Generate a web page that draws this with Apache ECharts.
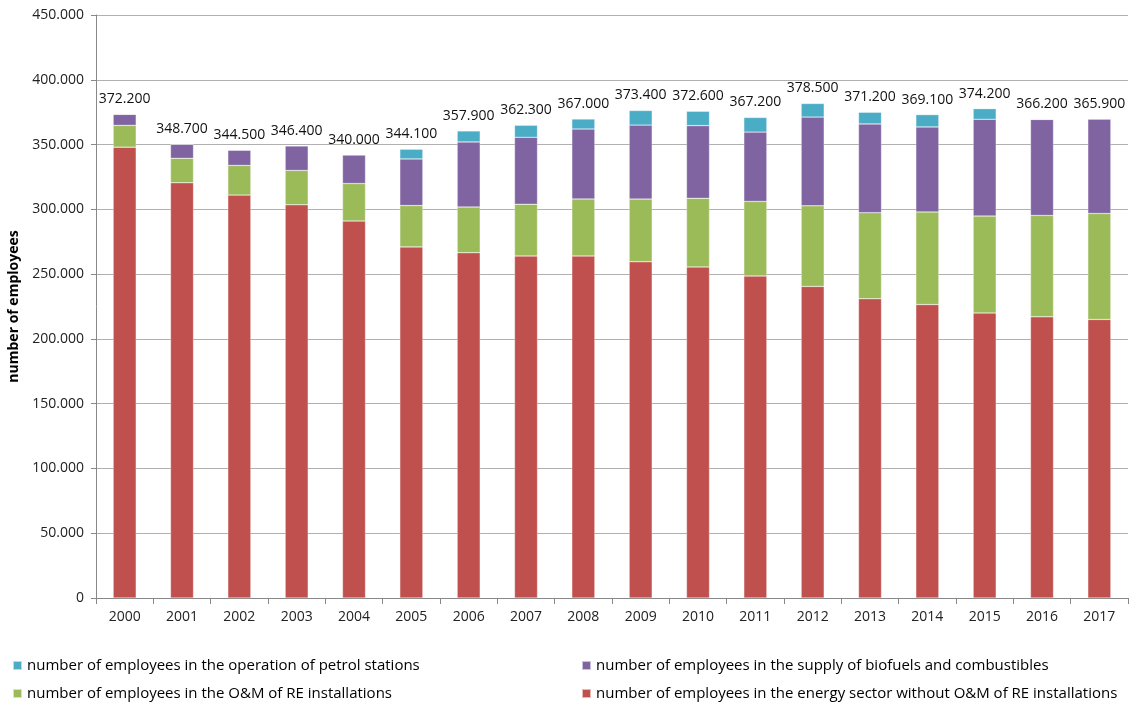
<!DOCTYPE html>
<html><head><meta charset="utf-8">
<script src="https://cdn.jsdelivr.net/npm/echarts@6/dist/echarts.min.js"></script>
<style>html,body{margin:0;padding:0;background:#fff}#c{width:1130px;height:704px}</style>
</head><body><div id="c"></div>
<script>
const years = ['2000','2001','2002','2003','2004','2005','2006','2007','2008','2009','2010','2011','2012','2013','2014','2015','2016','2017'];
const energyWithoutOM = [348000,320500,311000,303500,291000,271000,266500,264000,264000,259500,255500,248500,240500,231000,226500,220000,217000,215000];
const omRE = [16800,18900,22900,26500,28900,31900,35300,39900,44000,48400,53000,57600,62200,66400,71500,74800,78300,81800];
const biofuels = [8500,10800,11800,19000,22100,36000,50200,51700,54000,57100,56100,53500,68500,68500,65600,74700,74100,72900];
const petrol = [0,0,0,0,0,7500,8500,9300,7700,11300,11100,11300,10500,9000,9500,8200,0,0];
const totals = [372200,348700,344500,346400,340000,344100,357900,362300,367000,373400,372600,367200,378500,371200,369100,374200,366200,365900];
const names = {
  petrol: 'number of employees in the operation of petrol stations',
  bio: 'number of employees in the supply of biofuels and combustibles',
  om: 'number of employees in the O&M of RE installations',
  energy: 'number of employees in the energy sector without O&M of RE installations'
};
function fmt(v){ return String(v).replace(/\B(?=(\d{3})+(?!\d))/g,'.'); }
const font = 'Open Sans, Liberation Sans, sans-serif';
const chart = echarts.init(document.getElementById('c'));
function bar(name, data, color, extra){
  return Object.assign({
    name: name, type: 'bar', stack: 's', data: data, barWidth: 23,
    itemStyle: {color: color, borderColor: 'rgba(255,255,255,0.6)', borderWidth: 0.5},
    emphasis: {disabled: true}
  }, extra || {});
}
function leg(left, top, item){
  return {left: left, top: top, orient: 'horizontal', itemWidth: 9, itemHeight: 9, icon: 'rect', padding: 0,
    textStyle: {fontSize: 15, color: '#000', fontFamily: font}, data: [item]};
}
chart.setOption({
  animation: false,
  textStyle: {fontFamily: font},
  grid: {left: 96, right: 2, top: 15, bottom: 106, containLabel: false, outerBoundsMode: 'none'},
  legend: [
    leg(12, 658, names.petrol),
    leg(581, 658, names.bio),
    leg(12, 686, names.om),
    leg(581, 686, names.energy)
  ],
  xAxis: {
    type: 'category', data: years,
    axisLine: {lineStyle: {color: '#888'}},
    axisTick: {show: true, length: 6, lineStyle: {color: '#888'}},
    axisLabel: {color: '#222', fontSize: 14, margin: 12, fontFamily: font}
  },
  yAxis: {
    type: 'value', min: 0, max: 450000, interval: 50000,
    name: 'number of employees', nameLocation: 'middle', nameGap: 72, nameRotate: 90,
    nameTextStyle: {fontWeight: 'bold', fontSize: 14, color: '#000', fontFamily: font},
    axisLine: {show: true, lineStyle: {color: '#888'}},
    axisTick: {show: true, length: 5, lineStyle: {color: '#888'}},
    splitLine: {lineStyle: {color: '#b0b0b0'}},
    axisLabel: {color: '#222', fontSize: 14, margin: 12, formatter: fmt, fontFamily: font}
  },
  series: [
    bar(names.energy, energyWithoutOM, '#C0504D'),
    bar(names.om, omRE, '#9BBB59'),
    bar(names.bio, biofuels, '#8064A2'),
    bar(names.petrol, petrol, '#4BACC6', {
      label: {show: true, position: 'top', distance: 8, fontSize: 14, color: '#111', fontFamily: font,
              formatter: p => fmt(totals[p.dataIndex])}
    })
  ]
});
</script></body></html>
